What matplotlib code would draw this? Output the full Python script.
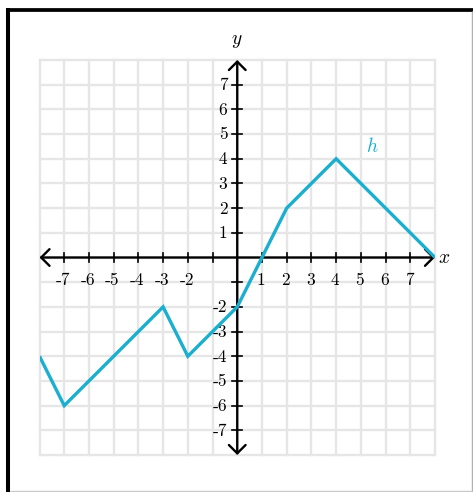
import matplotlib
matplotlib.use("Agg")
import matplotlib.pyplot as plt
from matplotlib.lines import Line2D

plt.rcParams["mathtext.fontset"] = "cm"

# Piecewise-linear function h
h_x = [-8, -7, -3, -2, 0, 2, 4, 8]
h_y = [-4, -6, -2, -4, -2, 2, 4, 0]

x_ticks = [-7, -6, -5, -4, -3, -2, -1, 1, 2, 3, 4, 5, 6, 7]
y_ticks = [-7, -6, -5, -4, -3, -2, -1, 1, 2, 3, 4, 5, 6, 7]
x_labels = ["-7", "-6", "-5", "-4", "-3", "-2", "", "1", "2", "3", "4", "5", "6", "7"]
y_labels = ["-7", "-6", "-5", "-4", "-3", "-2", "", "1", "2", "3", "4", "5", "6", "7"]

W, H, DPI = 473, 492, 100
fig = plt.figure(figsize=(W / DPI, H / DPI), dpi=DPI)
fig.patch.set_facecolor("white")

ax = fig.add_axes([39.5 / W, (H - 455) / H, 395.5 / W, 395 / H])
ax.set_xlim(-8, 8)
ax.set_ylim(-8, 8)
ax.axis("off")

grid_color = "#e6e6e6"
for v in range(-8, 9):
    ax.plot([v, v], [-8, 8], color=grid_color, lw=1.7, zorder=1, clip_on=False,
            solid_capstyle="projecting")
    ax.plot([-8, 8], [v, v], color=grid_color, lw=1.7, zorder=1, clip_on=False,
            solid_capstyle="projecting")

# Axes with arrowheads at both ends
arrow = dict(arrowstyle="<->,head_length=0.6,head_width=0.6", lw=1.7,
             color="black", shrinkA=0, shrinkB=0, mutation_scale=10)
ax.annotate("", xy=(8, 0), xytext=(-8, 0), arrowprops=arrow, zorder=3)
ax.annotate("", xy=(0, 8), xytext=(0, -8), arrowprops=arrow, zorder=3)

px = 16 / 395.5  # data units per pixel
tick = 5 * px
for t in x_ticks:
    ax.plot([t, t], [-tick, tick], color="black", lw=1.2, zorder=3)
for t in y_ticks:
    ax.plot([-tick, tick], [t, t], color="black", lw=1.2, zorder=3)

tick_font = dict(family="cmr10", fontsize=12.5, color="black")
for t, lab in zip(x_ticks, x_labels):
    if lab:
        ax.text(t - 0.05, -0.92, lab, ha="center", va="center", zorder=4, **tick_font)
for t, lab in zip(y_ticks, y_labels):
    if lab:
        ax.text(-0.4, t - 0.03, lab, ha="right", va="center", zorder=4, **tick_font)

ax.text(8.35, 0.02, "$x$", ha="center", va="center", fontsize=14, color="black")
ax.text(0.0, 8.8, "$y$", ha="center", va="center", fontsize=14, color="black")

line_color = "#1aaecf"
ax.plot(h_x, h_y, color=line_color, lw=2.4, zorder=5, solid_joinstyle="miter",
        solid_capstyle="butt")
ax.text(5.45, 4.5, "$h$", ha="center", va="center", fontsize=14, color=line_color)

# Page frame
def fline(x0, y0, x1, y1, color, lw):
    fig.add_artist(Line2D([x0 / W, x1 / W], [1 - y0 / H, 1 - y1 / H],
                          transform=fig.transFigure, color=color, lw=lw,
                          solid_capstyle="butt"))

fline(6, 9.8, 473, 9.8, "black", 2.7)
fline(8, 8, 8, 492, "black", 2.9)
fline(471.8, 11, 471.8, 492, "#b0b0b0", 1.0)
fline(10, 491, 472, 491, "#c8c8c8", 1.0)

fig.savefig("out.png", dpi=DPI, facecolor="white")
